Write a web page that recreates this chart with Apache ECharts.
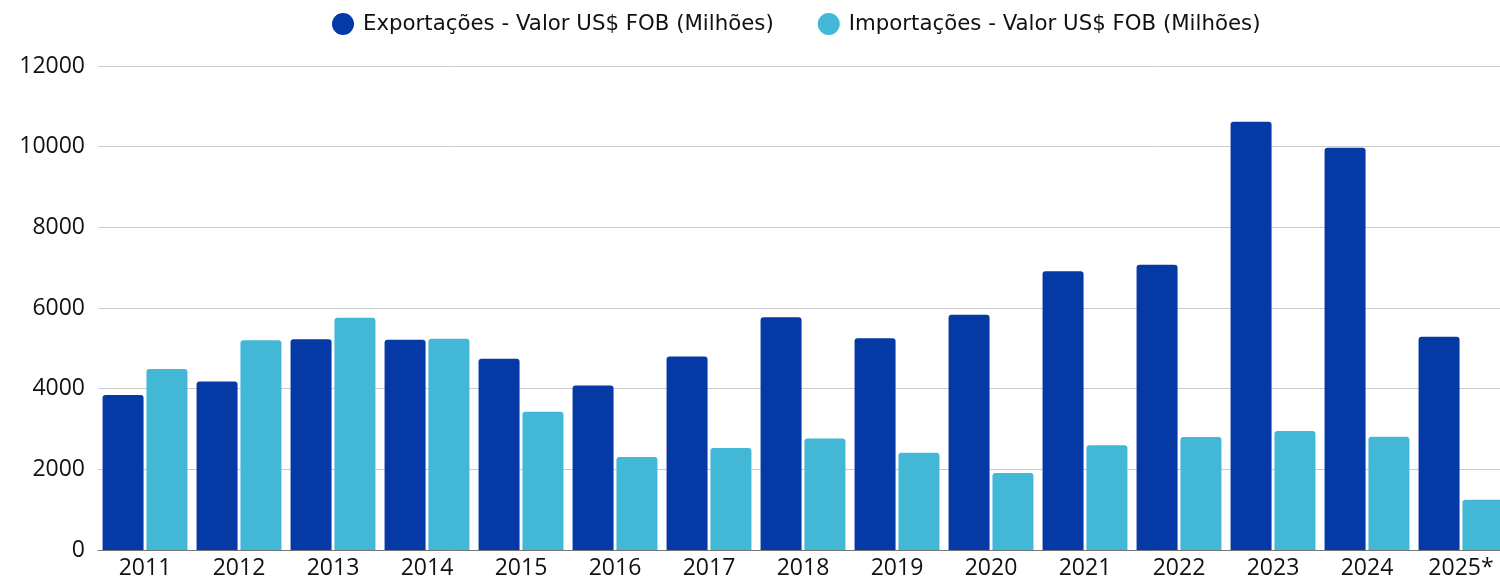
<!DOCTYPE html>
<html>
<head>
<meta charset="utf-8">
<script src="https://cdn.jsdelivr.net/npm/echarts@6/dist/echarts.min.js"></script>
<style>
html,body{margin:0;padding:0;background:#fff;overflow:hidden;}
#chart{width:1510px;height:580px;}
</style>
</head>
<body>
<div id="chart"></div>
<script>
const categories = ['2011','2012','2013','2014','2015','2016','2017','2018','2019','2020','2021','2022','2023','2024','2025*'];
const exportacoes = [3840, 4180, 5225, 5215, 4740, 4080, 4795, 5770, 5250, 5835, 6910, 7070, 10620, 9975, 5290];
const importacoes = [4485, 5200, 5760, 5240, 3430, 2305, 2530, 2765, 2410, 1910, 2595, 2800, 2950, 2810, 1245];
const seriesNames = ['Exportações - Valor US$ FOB (Milhões)', 'Importações - Valor US$ FOB (Milhões)'];
const yTicks = { min: 0, max: 12000, interval: 2000 };

const chart = echarts.init(document.getElementById('chart'));
const textFont = "'Open Sans', 'Noto Sans', sans-serif";
chart.setOption({
  animation: false,
  backgroundColor: '#ffffff',
  legend: {
    top: 13,
    left: 332,
    padding: 0,
    icon: 'circle',
    itemWidth: 22,
    itemHeight: 22,
    itemGap: 44,
    textStyle: {
      fontFamily: "'DejaVu Sans', sans-serif",
      fontSize: 21.3,
      color: '#111',
      padding: [0, 0, 0, 4]
    },
    data: seriesNames
  },
  grid: {
    left: 98,
    right: 2,
    top: 66,
    bottom: 29,
    containLabel: false
  },
  xAxis: {
    type: 'category',
    data: categories,
    axisTick: { show: false },
    axisLine: { show: true, lineStyle: { color: '#777', width: 1 } },
    axisLabel: { color: '#111', fontSize: 23, fontFamily: textFont, margin: 7 }
  },
  yAxis: {
    type: 'value',
    min: yTicks.min,
    max: yTicks.max,
    interval: yTicks.interval,
    axisLine: { show: false },
    axisTick: { show: false },
    splitLine: { lineStyle: { color: '#cccccc', width: 1 } },
    axisLabel: { color: '#111', fontSize: 23, fontFamily: textFont, margin: 13, formatter: v => String(v) }
  },
  series: [
    {
      name: seriesNames[0],
      type: 'bar',
      data: exportacoes,
      barWidth: 41,
      barGap: '7%',
      itemStyle: { color: '#0439a6', borderRadius: [3, 3, 0, 0] }
    },
    {
      name: seriesNames[1],
      type: 'bar',
      data: importacoes,
      barWidth: 41,
      barGap: '7%',
      itemStyle: { color: '#42b8d6', borderRadius: [3, 3, 0, 0] }
    }
  ]
});
</script>
</body>
</html>
